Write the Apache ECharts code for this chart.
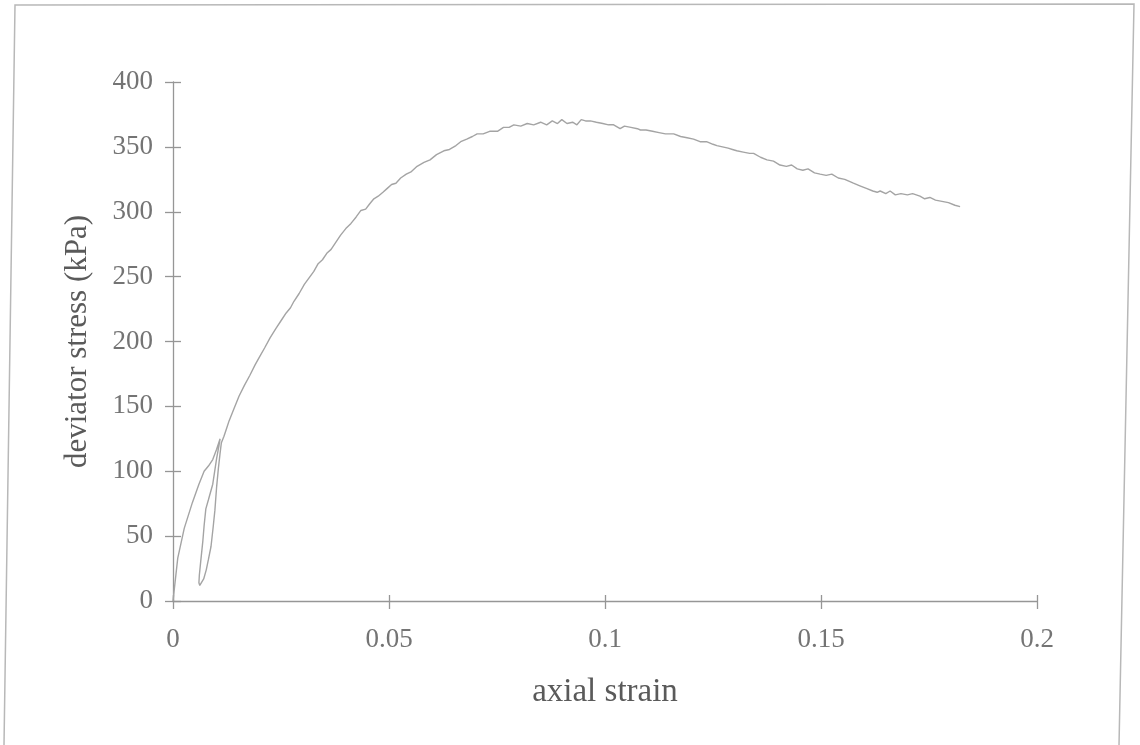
<!DOCTYPE html>
<html>
<head>
<meta charset="utf-8">
<style>
  html, body { margin: 0; padding: 0; background: #ffffff; }
  #chart { width: 1140px; height: 745px; }
</style>
<script src="https://cdn.jsdelivr.net/npm/echarts@6/dist/echarts.min.js"></script>
</head>
<body>
<div id="chart"></div>
<script>
// Triaxial test: deviator stress against axial strain, with one unload/reload loop.
const strain = [
  0, 0.0004, 0.0011, 0.0026, 0.0045, 0.0060, 0.0072, 0.0082, 0.0092, 0.0101, 0.0109,
  0.0106, 0.0101, 0.0092, 0.0082, 0.0076, 0.0072, 0.0069, 0.0064, 0.0061, 0.0060, 0.0062, 0.0066,
  0.0071, 0.0077, 0.0082, 0.0088, 0.0093, 0.0097, 0.0101, 0.0105, 0.0109, 0.0112,
  0.0118, 0.0124, 0.0130, 0.0136, 0.0142, 0.0153, 0.0165, 0.0178, 0.0190, 0.0200,
  0.0212, 0.0225, 0.0238, 0.0250, 0.0262, 0.0272, 0.0280, 0.0292, 0.0304, 0.0315,
  0.0326, 0.0336, 0.0346, 0.0356, 0.0366, 0.0376, 0.0388, 0.0400, 0.0412, 0.0424,
  0.0435, 0.0446, 0.0455, 0.0465, 0.0475, 0.0486, 0.0496, 0.0506, 0.0516, 0.0527,
  0.0540, 0.0552, 0.0565, 0.0581, 0.0595, 0.0610, 0.0627, 0.0640, 0.0655, 0.0666,
  0.0680, 0.0693, 0.0704, 0.0718, 0.0733, 0.0751, 0.0765, 0.0778, 0.0789, 0.0805,
  0.0820, 0.0835, 0.0851, 0.0865, 0.0878, 0.0890, 0.0900, 0.0912, 0.0925, 0.0935,
  0.0945, 0.0955, 0.0966, 0.0980, 0.0995, 0.1008, 0.1020, 0.1035, 0.1045, 0.1060,
  0.1075, 0.1082, 0.1095, 0.1110, 0.1125, 0.1140, 0.1159, 0.1175, 0.1190, 0.1205,
  0.1220, 0.1235, 0.1250, 0.1259, 0.1272, 0.1285, 0.1295, 0.1305, 0.1320, 0.1335,
  0.1344, 0.1360, 0.1375, 0.1390, 0.1405, 0.1420, 0.1432, 0.1445, 0.1458, 0.1470,
  0.1485, 0.1498, 0.1512, 0.1525, 0.1540, 0.1555, 0.1575, 0.1590, 0.1605, 0.1620,
  0.1630, 0.1637, 0.1650, 0.1660, 0.1672, 0.1685, 0.1700, 0.1712, 0.1729, 0.1740,
  0.1752, 0.1765, 0.1780, 0.1795, 0.1810, 0.1822
];
const stress = [
  0, 12, 33, 56, 76, 90, 100, 104, 109, 117, 125,
  119, 110, 90, 78, 71, 58, 46, 30, 20, 14, 12, 13,
  17, 24, 32, 42, 57, 70, 88, 102, 114, 122,
  127, 133, 139, 144, 149, 158, 166, 174, 182, 188,
  195, 203, 210, 216, 222, 226, 231, 237, 244, 249,
  254, 260, 263, 268, 271, 276, 282, 287, 291, 296,
  301, 302, 306, 310, 312, 315, 318, 321, 322, 326,
  329, 331, 335, 338, 340, 344, 347, 348, 351, 354,
  356, 358, 360, 360, 362, 362, 365, 365, 367, 366,
  368, 367, 369, 367, 370, 368, 371, 368, 369, 367,
  371, 370, 370, 369, 368, 367, 367, 364, 366, 365,
  364, 363, 363, 362, 361, 360, 360, 358, 357, 356,
  354, 354, 352, 351, 350, 349, 348, 347, 346, 345,
  345, 342, 340, 339, 336, 335, 336, 333, 332, 333,
  330, 329, 328, 329, 326, 325, 322, 320, 318, 316,
  315, 316, 314, 316, 313, 314, 313, 314, 312, 310,
  311, 309, 308, 307, 305, 304
];
const xTicks = ['0', '0.05', '0.1', '0.15', '0.2'];
const yTicks = ['0', '50', '100', '150', '200', '250', '300', '350', '400'];

const FONT = 'Liberation Serif';
const AXIS_GREY = '#969696';
const TEXT_GREY = '#747474';

const chart = echarts.init(document.getElementById('chart'), null, { renderer: 'canvas' });
const points = strain.map((s, i) => [s, stress[i]]);
const gridBox = { left: 173, right: 103, top: 82, bottom: 144 };

const option = {
  backgroundColor: '#ffffff',
  animation: false,
  grid: [
    Object.assign({ containLabel: false }, gridBox),
    Object.assign({ containLabel: false }, gridBox)
  ],
  xAxis: [
    {
      type: 'value', gridIndex: 0, min: 0, max: 0.2, interval: 0.05,
      axisLine: { show: true, onZero: false, lineStyle: { color: AXIS_GREY, width: 1.3 } },
      axisTick: { show: true, length: 8, lineStyle: { color: AXIS_GREY, width: 1.3 } },
      splitLine: { show: false },
      axisLabel: {
        margin: 25, color: TEXT_GREY, fontFamily: FONT, fontSize: 27,
        formatter: (v) => xTicks[Math.round(v / 0.05)]
      },
      name: 'axial strain', nameLocation: 'middle', nameGap: 75,
      nameTextStyle: { color: '#5a5a5a', fontFamily: FONT, fontSize: 33 }
    },
    {
      type: 'value', gridIndex: 1, min: 0, max: 0.2, interval: 0.05,
      axisLine: { show: false },
      axisTick: { show: true, inside: true, length: 6, lineStyle: { color: AXIS_GREY, width: 1.3 } },
      axisLabel: { show: false }, splitLine: { show: false }
    }
  ],
  yAxis: [
    {
      type: 'value', gridIndex: 0, min: 0, max: 400, interval: 50,
      axisLine: { show: true, onZero: false, lineStyle: { color: AXIS_GREY, width: 1.3 } },
      axisTick: { show: true, length: 8, lineStyle: { color: AXIS_GREY, width: 1.3 } },
      splitLine: { show: false },
      axisLabel: {
        margin: 20, color: TEXT_GREY, fontFamily: FONT, fontSize: 27,
        formatter: (v) => yTicks[Math.round(v / 50)]
      },
      name: 'deviator stress (kPa)', nameLocation: 'middle', nameGap: 80,
      nameTextStyle: { color: '#5a5a5a', fontFamily: FONT, fontSize: 31 }
    },
    {
      type: 'value', gridIndex: 1, min: 0, max: 400, interval: 50,
      axisLine: { show: false },
      axisTick: { show: true, inside: true, length: 8, lineStyle: { color: AXIS_GREY, width: 1.3 } },
      axisLabel: { show: false }, splitLine: { show: false }
    }
  ],
  series: [
    {
      type: 'line', xAxisIndex: 0, yAxisIndex: 0,
      data: points, showSymbol: false, smooth: false,
      lineStyle: { color: '#a4a4a4', width: 1.4 }
    }
  ],
  graphic: [
    {
      type: 'polyline', silent: true,
      shape: { points: [[4, 745], [15, 5], [1134, 4], [1119, 745]] },
      style: { fill: null, stroke: '#b8b8b8', lineWidth: 1.5 }
    }
  ]
};

chart.setOption(option);
</script>
</body>
</html>
